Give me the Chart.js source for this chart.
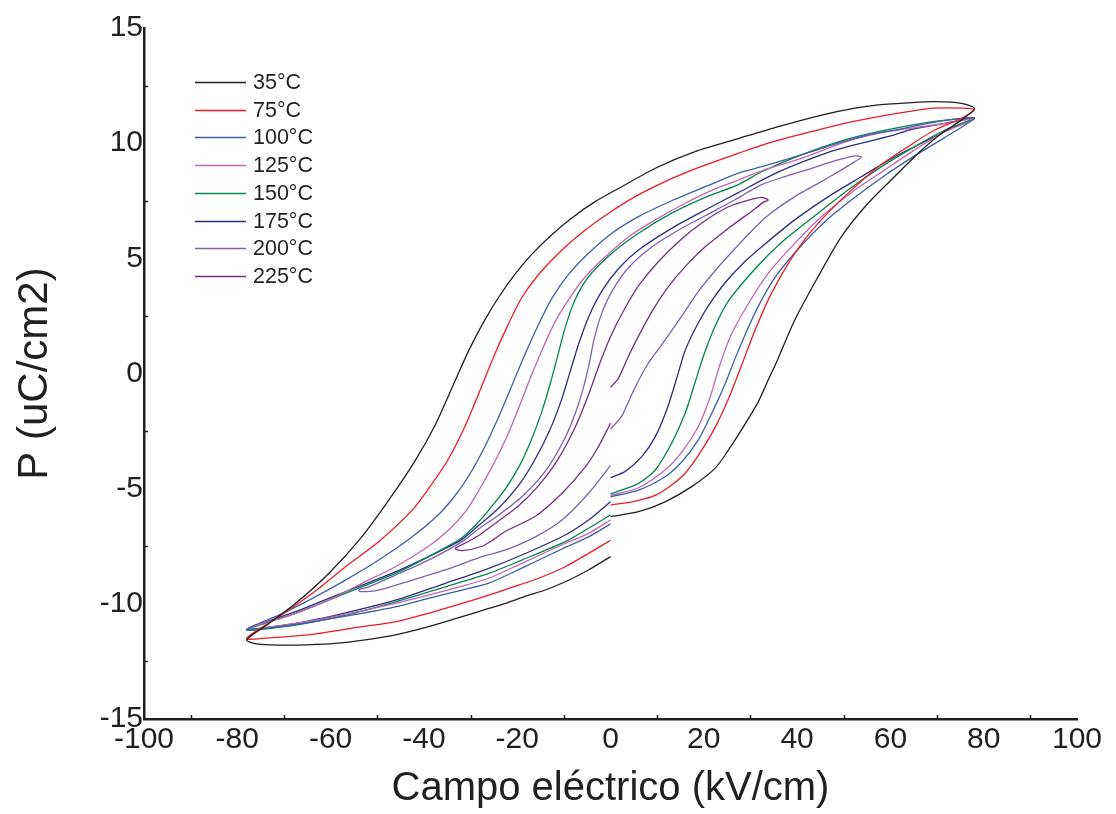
<!DOCTYPE html>
<html>
<head>
<meta charset="utf-8">
<script src="https://cdn.jsdelivr.net/npm/chart.js@4.4.0/dist/chart.umd.min.js"></script>
<style>
  html, body { margin: 0; padding: 0; background: #ffffff; }
  #wrap { width: 1116px; height: 814px; }
  canvas { display: block; }
</style>
</head>
<body>
<div id="wrap"><canvas id="loops" width="1116" height="814" style="width:1116px;height:814px"></canvas></div>
<script>
// Hysteresis loops P(E) at each temperature: [E (kV/cm), P (uC/cm2)]
// Each loop starts at E = 0, sweeps to +Emax, back to -Emax and returns to 0.
const temperatures = ['35°C', '75°C', '100°C', '125°C', '150°C', '175°C', '200°C', '225°C'];

const loop35 = [
  [0,-6.22],[6,-6.0],[11.7,-5.57],[17.4,-4.91],[22.4,-4.12],[25.3,-3.32],[28.5,-2.31],[31.7,-1.22],[33.8,-0.28],[35.8,0.59],
  [39.5,2.32],[44.5,4.2],[49.5,5.94],[55.2,7.39],[60.9,8.55],[66.7,9.7],[71,10.43],[75.2,11.0],[78,11.5],
  [75.2,11.73],[69.5,11.8],[64.5,11.76],[57.4,11.66],[52.4,11.52],[45.3,11.22],[36,10.72],[27.4,10.2],[18.1,9.63],[9.6,8.91],
  [2.4,8.11],[-3.3,7.46],[-8.3,6.75],[-13,5.95],[-17,5.15],[-20.5,4.3],[-24,3.3],[-27.3,2.2],[-30.5,0.95],[-33.5,-0.4],
  [-37.5,-2.2],[-41.8,-3.76],[-47.5,-5.49],[-53.3,-7.09],[-60.4,-8.68],[-67.5,-9.98],[-73.2,-10.85],[-78,-11.57],
  [-75.4,-11.75],[-67.5,-11.79],[-59,-11.72],[-51.8,-11.54],[-46.1,-11.35],[-39,-10.99],[-31.8,-10.56],[-26.1,-10.2],
  [-22.5,-9.98],[-18.3,-9.68],[-14,-9.4],[-9.7,-9.04],[-4.7,-8.53],[0,-7.95]
];

const loop75 = [
  [0,-5.71],[4.6,-5.57],[8.9,-5.35],[12.4,-4.95],[16,-4.33],[19,-3.5],[22.4,-2.35],[25.3,-1.1],[28,0.3],
  [31,1.89],[34.5,3.48],[39.5,5.22],[44.5,6.52],[50.9,7.82],[57.4,8.98],[63.8,9.85],[69.5,10.57],[75.2,11.08],[78,11.45],
  [75.2,11.52],[69.5,11.52],[63.8,11.37],[57.4,11.15],[50.2,10.86],[43.1,10.5],[33.8,10],[27.4,9.56],[23.1,9.25],[18.1,8.88],
  [11.7,8.33],[5.3,7.68],[-0.4,6.96],[-5.4,6.23],[-10.4,5.36],[-15.4,4.3],[-19,3.3],[-22,2.1],[-25,0.75],[-28,-0.75],
  [-31.2,-2.3],[-35,-3.8],[-39,-5.0],[-42.5,-5.93],[-49.7,-7.3],[-56.8,-8.39],[-63.9,-9.54],[-71.1,-10.56],[-78,-11.5],
  [-72.5,-11.47],[-63.9,-11.33],[-53.3,-10.99],[-46.1,-10.78],[-39,-10.41],[-31.8,-9.98],[-26.1,-9.62],[-21.8,-9.33],
  [-15.4,-8.89],[-9.7,-8.39],[-4.7,-7.81],[0,-7.24]
];

const loop100 = [
  [0,-5.35],[6,-5.06],[11.7,-4.48],[15.3,-3.83],[18.8,-2.89],[21.7,-1.73],[24.6,-0.43],[26.8,0.7],[29,1.75],[31.5,2.85],
  [35,4.1],[40,5.35],[46,6.6],[52.4,7.65],[58.8,8.6],[65.2,9.45],[71.7,10.25],[78,11.08],
  [73.8,11.04],[68.1,10.86],[60.9,10.57],[55.2,10.36],[48.8,10],[40.9,9.49],[32.4,8.98],[27.4,8.7],[20.3,8.11],[13.1,7.5],
  [6,6.81],[0.3,6.09],[-4.7,5.22],[-9,4.3],[-12.6,3.25],[-15.6,2.05],[-18.4,0.8],[-21.2,-0.55],[-24,-1.9],[-27,-3.2],
  [-30.4,-4.45],[-33.5,-5.35],[-37,-6.15],[-42.5,-7.09],[-49.7,-8.1],[-56.8,-8.97],[-63.9,-9.76],[-71.1,-10.49],[-78,-11.1],
  [-71.1,-10.99],[-63.9,-10.78],[-53.3,-10.41],[-46.1,-10.13],[-39,-9.76],[-31.8,-9.4],[-26.1,-9.1],[-19,-8.45],
  [-9.7,-7.55],[-4.7,-7.09],[0,-6.53]
];

const loop125 = [
  [0,-5.29],[6,-4.96],[11.7,-4.19],[15.3,-3.4],[18.8,-2.31],[21.4,-1.0],[23.4,0.35],[25.8,1.65],[29.6,3.05],[33.8,4.35],
  [39.5,5.65],[45.2,6.81],[52.4,7.97],[58.8,8.84],[65.2,9.71],[71.7,10.5],[78,11.04],
  [71.7,10.86],[64.5,10.65],[57.4,10.43],[50.2,10.05],[40.9,9.34],[32.4,8.8],[27.4,8.4],[21.7,7.95],[16,7.39],[9.6,6.67],
  [3.9,5.94],[-1.1,5.07],[-5.4,4.2],[-9,3.2],[-12,2.2],[-14.5,1.1],[-17,-0.1],[-19.5,-1.4],[-22,-2.65],[-25,-3.9],
  [-28.3,-5.1],[-31.1,-6.0],[-35,-6.85],[-39,-7.5],[-46.1,-8.39],[-53.3,-9.11],[-60.4,-9.84],[-67.5,-10.41],[-78,-11.1],
  [-67.5,-10.85],[-60.4,-10.6],[-46.1,-9.98],[-31.8,-9.23],[-26.1,-8.89],[-19,-8.24],[-9.7,-7.37],[-4.7,-6.94],[0,-6.36]
];

const loop150 = [
  [0,-5.23],[6,-4.77],[9.6,-4.19],[13.1,-3.03],[16,-1.73],[18.1,-0.4],[20,0.8],[22.3,2.0],[25.3,3.15],[31,4.55],
  [36.7,5.7],[43.8,6.85],[50.9,7.97],[58.1,8.98],[65.2,9.85],[71.7,10.57],[78,11.08],
  [73.8,11.04],[66.7,10.86],[57.4,10.5],[50.2,10.14],[40.9,9.49],[32.4,8.76],[27.4,8.2],[20.3,7.65],[13.1,6.96],[6,6.09],
  [0.3,5.22],[-4.7,4.2],[-7.6,3.2],[-9.7,2.0],[-11.4,0.7],[-13,-0.5],[-14.8,-1.7],[-17,-2.9],[-19.5,-4.0],[-22.5,-5.0],
  [-26.1,-5.93],[-29,-6.6],[-32,-7.15],[-39,-7.95],[-46.1,-8.68],[-53.3,-9.26],[-60.4,-9.84],[-67.5,-10.41],[-78,-11.14],
  [-67.5,-10.92],[-56.8,-10.49],[-46.1,-9.91],[-35.4,-9.26],[-26.1,-8.68],[-19,-8.1],[-9.7,-7.3],[-4.7,-6.72],[0,-6.14]
];

const loop175 = [
  [0,-4.52],[3.1,-4.26],[6.7,-3.61],[9.6,-2.74],[12.2,-1.5],[14.2,-0.2],[16,1.0],[18.3,2.0],[21,2.95],[24.6,3.95],
  [28.5,4.8],[33,5.6],[39.5,6.67],[46.7,7.68],[53.8,8.55],[60.9,9.41],[68.1,10.14],[73.8,10.72],[78,11.08],
  [71.7,10.86],[64.5,10.6],[60.9,10.36],[53.8,10],[46.7,9.6],[36,8.75],[27.4,7.85],[20.3,7.1],[13.1,6.3],[6,5.36],
  [1.7,4.55],[-1.8,3.6],[-4.6,2.5],[-6.8,1.3],[-8.7,0.05],[-10.6,-1.2],[-13,-2.45],[-16.1,-3.7],[-19.5,-4.8],[-24,-5.85],
  [-28.3,-6.6],[-31.8,-7.2],[-39,-7.95],[-46.1,-8.61],[-53.3,-9.19],[-60.4,-9.76],[-67.5,-10.34],[-78,-11.11],
  [-67.5,-10.85],[-56.8,-10.39],[-46.1,-9.84],[-35.4,-9.11],[-26.1,-8.46],[-19,-7.88],[-9.7,-7.01],[-4.7,-6.36],[0,-5.57]
];

const loop200 = [
  [0,-2.41],[2.4,-1.85],[4.8,-0.8],[7.5,0.25],[11.5,1.4],[15.3,2.5],[18.8,3.55],[23,4.6],[26.8,5.45],[30.3,6.2],
  [34,6.9],[39.5,7.68],[45.2,8.33],[49.5,8.84],[52.4,9.2],[53.8,9.4],
  [52.4,9.45],[48.8,9.27],[43.1,8.91],[37.4,8.55],[32.4,8.2],[26.3,7.5],[20.3,6.85],[14.6,6.23],[8.9,5.5],[3.9,4.6],
  [0.4,3.6],[-1.9,2.6],[-3.5,1.5],[-4.6,0.4],[-5.8,-0.6],[-7.5,-1.7],[-10,-2.9],[-14,-4.25],[-19,-5.35],[-24,-6.15],
  [-28.3,-6.75],[-31.8,-7.3],[-39,-8.1],[-46.1,-8.75],[-51.8,-9.26],[-54,-9.4],
  [-53.7,-9.47],[-49.7,-9.4],[-42.5,-8.97],[-35.4,-8.53],[-28.3,-8.0],[-22.5,-7.66],[-16.1,-7.09],[-10.4,-6.36],
  [-4.7,-5.2],[0,-3.99]
];

const loop225 = [
  [0,-0.6],[1.7,-0.21],[3.5,0.59],[5.3,1.35],[8.9,2.7],[12.4,3.77],[16,4.64],[20.3,5.5],[24.6,6.2],[27.7,6.67],
  [29.9,6.98],[32.8,7.44],[33.8,7.53],
  [32.4,7.65],[29.6,7.53],[25.3,7.24],[20,6.6],[15,5.8],[10,4.8],[6,3.8],[3,2.8],[0,1.6],[-2.2,0.5],[-4.5,-0.8],
  [-7.5,-2.3],[-11.5,-3.8],[-16,-5],[-20,-5.8],[-24,-6.4],[-28,-7.0],[-31,-7.35],[-33.3,-7.6],
  [-31.8,-7.69],[-27.5,-7.5],[-25,-7.2],[-22.5,-6.85],[-16.1,-6.2],[-10.4,-5.2],[-5.4,-4.05],[-2.6,-3.18],[0,-2.16]
];

const loops = [loop35, loop75, loop100, loop125, loop150, loop175, loop200, loop225];
const loopColors = ['#231f20', '#ed1c24', '#3d5fab', '#c563b6', '#00874b', '#2c2f80', '#7e61b3', '#7b2b87'];

// Axis ticks
const xTicks = [-100, -80, -60, -40, -20, 0, 20, 40, 60, 80, 100];
const yTicks = [-15, -10, -5, 0, 5, 10, 15];
const xMinorTicks = [-90, -70, -50, -30, -10, 10, 30, 50, 70, 90];
const yMinorTicks = [-12.5, -7.5, -2.5, 2.5, 7.5, 12.5];

const INK = '#231f20';
const FONT = "'Liberation Sans', Arial, Helvetica, sans-serif";

// Small inward minor ticks and the line key in the upper left
const extrasPlugin = {
  id: 'minorTicksAndKey',
  afterDraw(chart) {
    const { ctx, chartArea, scales } = chart;
    const xs = scales.x, ys = scales.y;
    ctx.save();
    ctx.strokeStyle = INK;
    ctx.lineWidth = 1.5;
    xMinorTicks.forEach(v => {
      const px = Math.round(xs.getPixelForValue(v)) + 0.5;
      ctx.beginPath();
      ctx.moveTo(px, chartArea.bottom);
      ctx.lineTo(px, chartArea.bottom - 4);
      ctx.stroke();
    });
    yMinorTicks.forEach(v => {
      const py = Math.round(ys.getPixelForValue(v)) + 0.5;
      ctx.beginPath();
      ctx.moveTo(chartArea.left, py);
      ctx.lineTo(chartArea.left + 4, py);
      ctx.stroke();
    });

    // key
    const keyX = 195, keyLen = 51, keyTop = 82, keyStep = 27.7;
    ctx.font = '21.5px ' + FONT;
    ctx.textBaseline = 'middle';
    ctx.textAlign = 'left';
    chart.data.datasets.forEach((ds, i) => {
      const yy = Math.round(keyTop + i * keyStep) + 0.5;
      ctx.strokeStyle = ds.borderColor;
      ctx.lineWidth = 1.4;
      ctx.beginPath();
      ctx.moveTo(keyX, yy);
      ctx.lineTo(keyX + keyLen, yy);
      ctx.stroke();
      ctx.fillStyle = INK;
      ctx.fillText(ds.label, keyX + keyLen + 7, yy + 1);
    });
    ctx.restore();
  }
};

const datasets = loops.map((loop, i) => ({
  label: temperatures[i],
  data: loop.map(([e, p]) => ({ x: e, y: p })),
  borderColor: loopColors[i],
  backgroundColor: loopColors[i],
  borderWidth: 1.3,
  pointRadius: 0,
  pointHoverRadius: 0,
  showLine: true,
  fill: false,
  tension: 0.25
}));

new Chart(document.getElementById('loops'), {
  type: 'scatter',
  data: { datasets },
  options: {
    responsive: false,
    animation: false,
    events: [],
    layout: { padding: { top: 28, right: 39, left: 0, bottom: 0 } },
    plugins: {
      legend: { display: false },
      tooltip: { enabled: false }
    },
    scales: {
      x: {
        type: 'linear',
        min: -100, max: 100,
        afterBuildTicks: (scale) => { scale.ticks = xTicks.map(v => ({ value: v })); },
        afterFit: (scale) => { scale.height = 95; },
        ticks: {
          font: { family: FONT, size: 30 },
          color: INK,
          padding: 3,
          maxRotation: 0,
          autoSkip: false
        },
        grid: { display: false, drawTicks: false },
        border: { display: true, color: INK, width: 2.5 },
        title: {
          display: true,
          text: 'Campo eléctrico (kV/cm)',
          color: INK,
          font: { family: FONT, size: 40, lineHeight: 1 },
          padding: { top: 0, bottom: 5 }
        }
      },
      y: {
        type: 'linear',
        min: -15, max: 15,
        afterBuildTicks: (scale) => { scale.ticks = yTicks.map(v => ({ value: v })); },
        afterFit: (scale) => { scale.width = 144; },
        ticks: {
          font: { family: FONT, size: 30 },
          color: INK,
          padding: 1,
          autoSkip: false
        },
        grid: { display: false, drawTicks: false },
        border: { display: true, color: INK, width: 2.5 },
        title: {
          display: true,
          text: 'P (uC/cm2)',
          color: INK,
          font: { family: FONT, size: 42, lineHeight: 1 },
          padding: { top: 14, bottom: 0 }
        }
      }
    }
  },
  plugins: [extrasPlugin]
});
</script>
</body>
</html>
